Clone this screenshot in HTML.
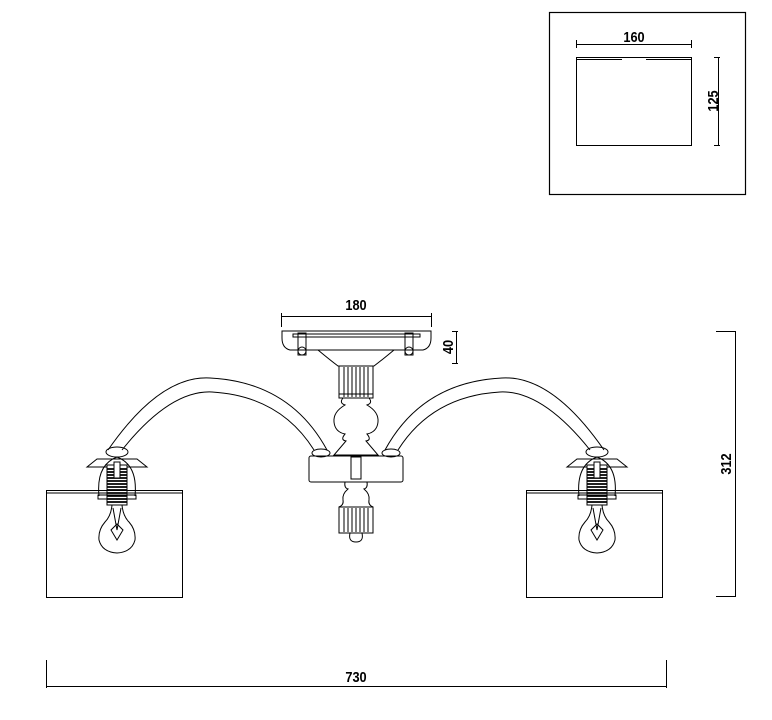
<!DOCTYPE html>
<html><head><style>
html,body{margin:0;padding:0;background:#fff;}
svg{display:block;}
text{font-family:"Liberation Sans Narrow","Liberation Sans",sans-serif;font-weight:bold;font-size:15px;fill:#000;}
</style></head><body>
<svg width="772" height="720" viewBox="0 0 772 720" xmlns="http://www.w3.org/2000/svg" fill="none" stroke="#000" stroke-width="1">
<rect x="549.5" y="12.5" width="196" height="182" stroke-width="1.2"/>
<line x1="576" y1="44.5" x2="692" y2="44.5"/>
<line x1="576.5" y1="40" x2="576.5" y2="48"/><line x1="691.5" y1="40" x2="691.5" y2="48"/>
<text x="0" y="0" transform="translate(634,42) scale(0.85,1)" text-anchor="middle" stroke="none">160</text>
<rect x="576.5" y="57.5" width="115" height="88"/>
<line x1="577" y1="59.5" x2="622" y2="59.5"/><line x1="646" y1="59.5" x2="691" y2="59.5"/>
<line x1="718.5" y1="57" x2="718.5" y2="146"/>
<line x1="714" y1="57.5" x2="720" y2="57.5"/><line x1="714" y1="145.5" x2="720" y2="145.5"/>
<text x="0" y="0" transform="translate(718,101) rotate(-90) scale(0.85,1)" text-anchor="middle" stroke="none">125</text>

<line x1="281" y1="316.5" x2="432" y2="316.5"/>
<line x1="281.5" y1="313" x2="281.5" y2="327"/><line x1="431.5" y1="313" x2="431.5" y2="327"/>
<text x="0" y="0" transform="translate(356,310) scale(0.85,1)" text-anchor="middle" stroke="none">180</text>
<line x1="456.5" y1="331" x2="456.5" y2="364"/>
<line x1="452" y1="331.5" x2="458" y2="331.5"/><line x1="452" y1="363.5" x2="458" y2="363.5"/>
<text x="0" y="0" transform="translate(453,347) rotate(-90) scale(0.85,1)" text-anchor="middle" stroke="none">40</text>

<path d="M282,331 H431 V338 Q431,348 423,350 H290 Q282,348 282,338 Z"/>
<rect x="293" y="334" width="127" height="3"/>
<rect x="298" y="333" width="8" height="22"/><circle cx="302" cy="351" r="4"/>
<rect x="405" y="333" width="8" height="22"/><circle cx="409" cy="351" r="4"/>
<path d="M318,350 Q330,360 338,366 H374 Q382,360 394,350 Z"/>
<rect x="339" y="366" width="34" height="32"/>
<path d="M344,367V397M348,367V397M352,367V397M356,367V397M360,367V397M364,367V397M368,367V397"/>
<line x1="339" y1="394" x2="373" y2="394"/>
<path d="M343,398 Q339,403 345,405 Q333,412 334,422 Q335,432 345,434 Q340,440 346,441 Q340,448 334,455 H378 Q372,448 366,441 Q372,440 367,434 Q377,432 378,422 Q379,412 367,405 Q373,403 369,398"/>
<rect x="309" y="456" width="94" height="26" rx="2"/>
<ellipse cx="321" cy="453" rx="9" ry="4"/><ellipse cx="391" cy="453" rx="9" ry="4"/>
<rect x="351" y="457" width="10" height="22"/>
<path d="M345,482 Q344,488 348,489 Q342,494 343,500 Q344,505 339,507 H373 Q368,505 369,500 Q370,494 364,489 Q368,488 367,482"/>
<rect x="339" y="507" width="34" height="26"/>
<path d="M344,508V532M348,508V532M352,508V532M356,508V532M360,508V532M364,508V532M368,508V532"/>
<path d="M350,533 Q348,542 356,542 Q364,542 362,533"/>

<path d="M108,450 Q160,375 210,378 Q290,382 327,450"/>
<path d="M122,450 Q170,390 212,392 Q280,396 314,450"/>
<path d="M604,450 Q552,375 502,378 Q422,382 385,450"/>
<path d="M590,450 Q542,390 500,392 Q432,396 398,450"/>

<g id="lamp">
<ellipse cx="117" cy="452" rx="11" ry="5"/>
<path d="M87,467 L97,459 H137 L147,467 Z"/>
<path d="M99,496 Q96,465 117,457 Q138,465 135,496"/>
<rect x="107" y="465" width="20" height="40" fill="#fff"/>
<path d="M107,469H127M107,472H127M107,475H127M107,478H127M107,481H127M107,484H127M107,487H127M107,490H127M107,493H127M107,496H127M107,499H127M107,502H127" stroke-width="1.8"/>
<rect x="114" y="462" width="6" height="16" fill="#fff"/>
<rect x="98" y="495" width="38" height="4"/>
<path d="M112,505 Q111,516 105,522 Q98,530 99,540 Q102,552 117,553 Q132,552 135,540 Q136,530 129,522 Q123,516 122,505"/>
<path d="M113,508 L117,530 L121,508 M111,530 L117,524 L123,530 L117,540 Z"/>
<rect x="46.5" y="490.5" width="136" height="107"/>
<line x1="47" y1="493" x2="182" y2="493"/>
</g>
<use href="#lamp" transform="translate(480,0)"/>

<line x1="735.5" y1="331" x2="735.5" y2="597"/>
<line x1="716" y1="331.5" x2="736" y2="331.5"/><line x1="716" y1="596.5" x2="736" y2="596.5"/>
<text x="0" y="0" transform="translate(731,464) rotate(-90) scale(0.85,1)" text-anchor="middle" stroke="none">312</text>

<line x1="46" y1="686.5" x2="667" y2="686.5"/>
<line x1="46.5" y1="660" x2="46.5" y2="688"/><line x1="666.5" y1="660" x2="666.5" y2="688"/>
<text x="0" y="0" transform="translate(356,682) scale(0.85,1)" text-anchor="middle" stroke="none">730</text>
</svg>
</body></html>
